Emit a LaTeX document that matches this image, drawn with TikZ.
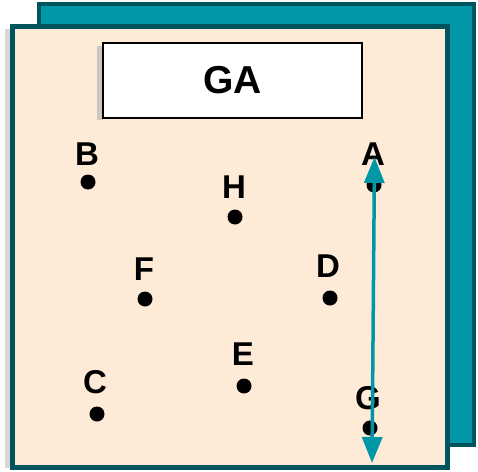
\documentclass[tikz,border=0pt]{standalone}
\usepackage{fontspec}
\setmainfont{Liberation Sans}
\usetikzlibrary{arrows.meta}
\definecolor{tealfill}{HTML}{0097A7}
\definecolor{tealdark}{HTML}{00545E}
\definecolor{paper}{HTML}{FDEBD7}
\definecolor{shadowc}{HTML}{B0B0B0}
\tikzset{
  dot/.style={circle,fill=black,inner sep=0pt,minimum size=15pt},
  lbl/.style={font=\fontsize{33}{33}\selectfont\bfseries,inner sep=0pt,anchor=base},
  dbl/.style={draw=tealfill,line width=3.5pt,{Triangle[length=26pt,width=20pt]}-{Triangle[length=26pt,width=20pt]}}
}
\begin{document}
\begin{tikzpicture}[x=1pt,y=-1pt]
\useasboundingbox (0,0) rectangle (478,471);
% back sheet
\fill[tealdark] (37,2) rectangle (476,447);
\fill[tealfill] (41,6) rectangle (472,443);
% shadow of front sheet
\fill[shadowc,opacity=0.5] (5,29) rectangle (12,468);
% front sheet
\fill[tealdark] (10,24) rectangle (450,470);
\fill[paper] (15,29) rectangle (445,465);
% title box
\fill[shadowc,opacity=0.6] (97,46) rectangle (103,120);
\node[draw=black,line width=2pt,fill=white,minimum width=259pt,minimum height=75pt,inner sep=0pt,
      font=\fontsize{39}{39}\selectfont\bfseries] (title) at (232.5,80.5) {GA};
% points
\node[dot] (B) at (88,182) {};
\node[lbl] (Bl) at (87,165) {B};
\node[dot] (H) at (235,217) {};
\node[lbl] (Hl) at (234,198) {H};
\node[dot] (A) at (374,185) {};
\node[lbl] (Al) at (373,165) {A};
\node[dot] (F) at (145,299) {};
\node[lbl] (Fl) at (144,280) {F};
\node[dot] (D) at (330,298) {};
\node[lbl] (Dl) at (328,277) {D};
\node[dot] (E) at (244,386) {};
\node[lbl] (El) at (243,365) {E};
\node[dot] (C) at (97,414) {};
\node[lbl] (Cl) at (95,393) {C};
\node[dot] (G) at (370,428) {};
\node[lbl] (Gl) at (368,409) {G};
% arrow
\coordinate (top) at (374.5,157);
\coordinate (bot) at (372,463);
\draw[dbl] (top) -- (bot);
\end{tikzpicture}
\end{document}
